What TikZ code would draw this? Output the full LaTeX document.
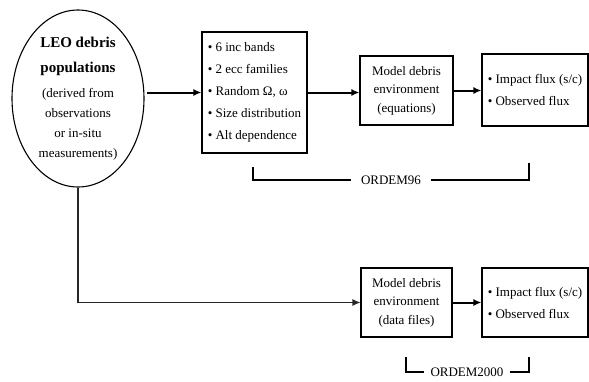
\documentclass[tikz,border=0pt]{standalone}
\usepackage{fontspec}
\setmainfont{Liberation Serif}
\usetikzlibrary{arrows.meta}
\usetikzlibrary{shapes.geometric}
\tikzset{>={Latex[length=8pt,width=7pt]}}
\tikzset{
  blockbox/.style={draw, line width=1.1pt, inner sep=0pt, align=center,
    font=\fontsize{13}{18.5}\selectfont},
  listbox/.style={blockbox, align=left, font=\fontsize{13}{22}\selectfont},
  flow/.style={->, line width=2pt},
  bracket/.style={line width=2pt},
  tag/.style={inner xsep=6pt, inner ysep=0pt, font=\fontsize{13}{13}\selectfont},
}

\begin{document}
\begin{tikzpicture}[x=1pt,y=-1pt]
\useasboundingbox (0,0) rectangle (589,381);
% debris source
\node[draw, ellipse, line width=1.1pt, minimum width=132pt, minimum height=177pt,
  inner sep=0pt, align=center, font=\fontsize{13}{20}\selectfont] (leo) at (78,98.5)
  {{\fontsize{15}{25}\selectfont\bfseries LEO debris}\\[5pt]
   {\fontsize{15}{25}\selectfont\bfseries populations}\\[5pt]
   (derived from\\observations\\or in-situ\\measurements)};
% ORDEM96 chain
\node[listbox, minimum width=105pt, minimum height=121pt] (inputs) at (254.5,92.5)
  {\textbullet\ 6 inc bands\\\textbullet\ 2 ecc families\\\textbullet\ Random Ω, ω\\
   \textbullet\ Size distribution\\\textbullet\ Alt dependence};
\node[blockbox, minimum width=93pt, minimum height=69pt] (model) at (406.5,90.5)
  {Model debris\\environment\\(equations)};
\node[listbox, minimum width=106pt, minimum height=72pt] (flux) at (535,90)
  {\textbullet\ Impact flux (s/c)\\\textbullet\ Observed flux};
% ORDEM2000 chain
\node[blockbox, minimum width=91pt, minimum height=69pt] (modelb) at (406.5,302.5)
  {Model debris\\environment\\(data files)};
\node[listbox, minimum width=106pt, minimum height=69pt] (fluxb) at (535,302.5)
  {\textbullet\ Impact flux (s/c)\\\textbullet\ Observed flux};
% connectors
\draw[flow, shorten <=2pt] (leo.east |- inputs.west) -- (inputs.west);
\draw[flow] (inputs.east) -- (inputs.east -| model.west);
\draw[flow] (model.east) -- (model.east -| flux.west);
\draw[->, line width=1.1pt, black!85] (leo.south) |- (modelb.west);
\draw[flow] (modelb.east) -- (fluxb.west);
% model labels
\node[tag, inner xsep=10pt] (o96) at (391,180) {ORDEM96};
\coordinate (o96a) at (253,167);
\coordinate (o96b) at (529,163);
\draw[bracket] (o96a) |- (o96.west);
\draw[bracket] (o96.east) -| (o96b);
\node[tag] (o2000) at (467,372) {ORDEM2000};
\coordinate (o2000a) at (406,357);
\coordinate (o2000b) at (529,357);
\draw[bracket] (o2000a) |- (o2000.west);
\draw[bracket] (o2000.east) -| (o2000b);
\end{tikzpicture}
\end{document}
